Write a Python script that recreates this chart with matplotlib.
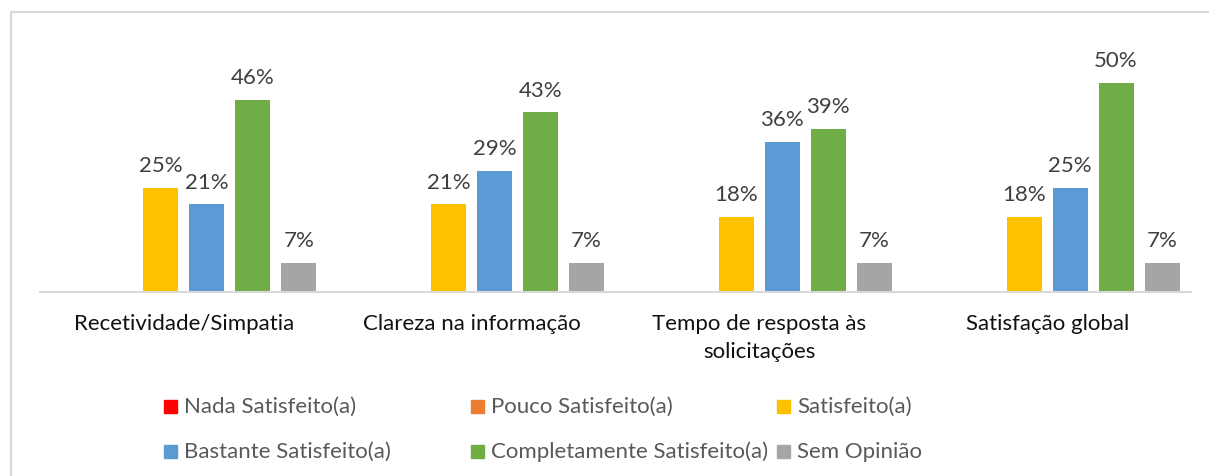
import matplotlib.pyplot as plt
import matplotlib as mpl
from matplotlib.patches import Rectangle
from matplotlib.lines import Line2D
import numpy as np

categories = [
    "Recetividade/Simpatia",
    "Clareza na informação",
    "Tempo de resposta às\nsolicitações",
    "Satisfação global",
]
series_names = [
    "Nada Satisfeito(a)",
    "Pouco Satisfeito(a)",
    "Satisfeito(a)",
    "Bastante Satisfeito(a)",
    "Completamente Satisfeito(a)",
    "Sem Opinião",
]
nada = [0, 0, 0, 0]
pouco = [0, 0, 0, 0]
satisfeito = [25, 21, 18, 18]
bastante = [21, 29, 36, 25]
completamente = [46, 43, 39, 50]
sem_opiniao = [7, 7, 7, 7]

COLORS = ["#FF0000", "#ED7D31", "#FFC000", "#5B9BD5", "#70AD47", "#A5A5A5"]
FONT = ["Lato", "DejaVu Sans"]
W, H = 1209, 477

mpl.rcParams.update({
    "font.family": FONT,
    "font.size": 16,
})

fig = plt.figure(figsize=(W / 100, H / 100), dpi=100)
fig.set_facecolor("white")

# chart frame (only left/top edges visible in the crop)
fig.add_artist(Line2D([11 / W, 11 / W], [0, 1 - 13 / H], color="#D9D9D9", lw=1.5,
                      transform=fig.transFigure))
fig.add_artist(Line2D([11 / W, 1], [1 - 13 / H, 1 - 13 / H], color="#D9D9D9", lw=1.5,
                      transform=fig.transFigure))

ymax = 60
ax_h = ymax * 4.18 / H
ax = fig.add_axes([40 / W, 1 - 293 / H, (1191 - 40) / W, ax_h])

all_series = [nada, pouco, satisfeito, bastante, completamente, sem_opiniao]
x = np.arange(len(categories))
slot = 46 / 288
width = 35 / 288
for j, (vals, color, name) in enumerate(zip(all_series, COLORS, series_names)):
    pos = x + (j - 2.5) * slot
    bars = ax.bar(pos, vals, width=width, color=color, label=name, zorder=2)
    for b, v in zip(bars, vals):
        if v == 0:
            continue
        ax.annotate(f"{v}%", (b.get_x() + b.get_width() / 2, b.get_height()),
                    xytext=(0, 12), textcoords="offset points",
                    ha="center", va="baseline", color="#404040", fontsize=16)

ax.set_xlim(-0.5, len(categories) - 0.5)
ax.set_ylim(0, ymax)
ax.set_yticks([])
ax.set_xticks(x)
ax.set_xticklabels(categories, color="#111111", fontsize=16, linespacing=1.5)
ax.tick_params(axis="x", length=0, pad=15)
for s in ["top", "right", "left"]:
    ax.spines[s].set_visible(False)
ax.spines["bottom"].set_color("#D9D9D9")
ax.spines["bottom"].set_linewidth(1.5)
ax.set_facecolor("none")

# legend, laid out like the spreadsheet one
col_x = [164, 471, 777]
row_y = [407, 452]
for k, (name, color) in enumerate(zip(series_names, COLORS)):
    cx = col_x[k % 3]
    cy = row_y[k // 3]
    fig.add_artist(Rectangle((cx / W, 1 - (cy + 7) / H), 13 / W, 13 / H,
                             color=color, transform=fig.transFigure))
    fig.text((cx + 20) / W, 1 - cy / H, name, ha="left", va="center",
             color="#595959", fontsize=16)

fig.savefig("out.png", dpi=100, facecolor="white")
